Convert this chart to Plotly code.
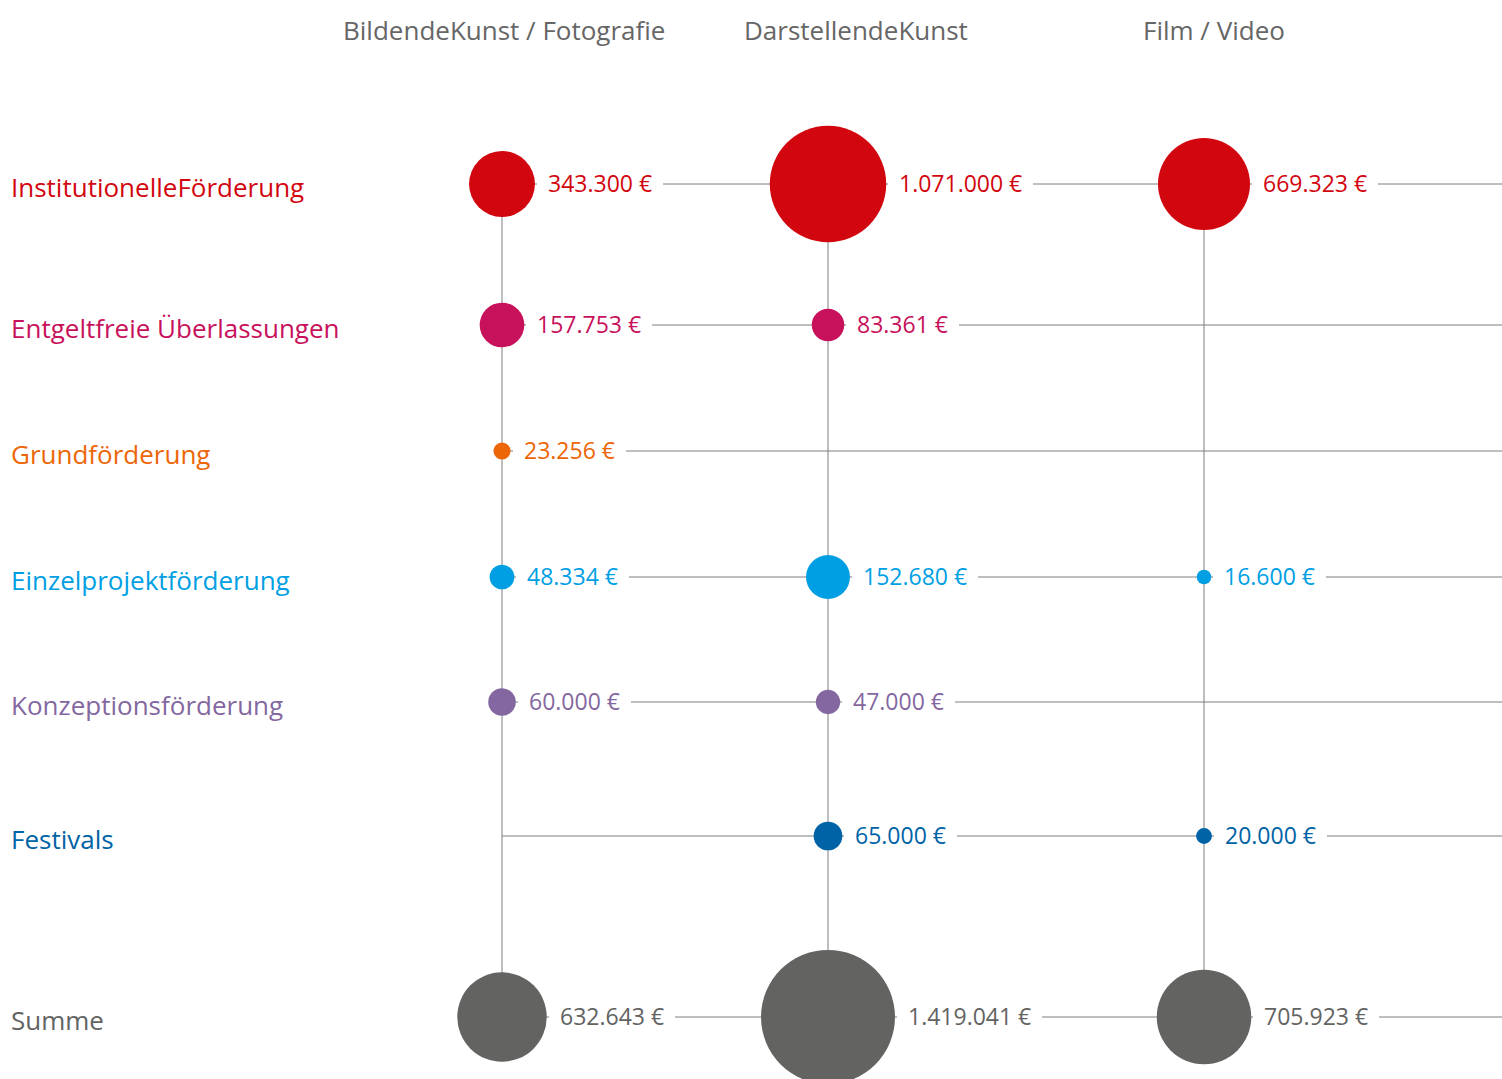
import math
import plotly.graph_objects as go

# ---------------- data ----------------
columns = ["BildendeKunst / Fotografie", "DarstellendeKunst", "Film / Video"]
rows = [
    "InstitutionelleFörderung",
    "Entgeltfreie Überlassungen",
    "Grundförderung",
    "Einzelprojektförderung",
    "Konzeptionsförderung",
    "Festivals",
    "Summe",
]
bildende_kunst = [343300, 157753, 23256, 48334, 60000, None, 632643]
darstellende_kunst = [1071000, 83361, None, 152680, 47000, 65000, 1419041]
film_video = [669323, None, None, 16600, None, 20000, 705923]

# ---------------- layout / style ----------------
W, H = 1502, 1079
col_x = [502, 828, 1204]
row_y = [184, 325, 451, 577, 702, 836, 1017]
header_x = [504, 856, 1214]
header_y = 30
row_colors = ["#D2060F", "#C8115B", "#EC6608", "#009FE3", "#8467A0", "#0063A6", "#636362"]
line_color = "#7f7f7f"
FONT = "Open Sans"
MAX_D = 134  # diameter of the largest bubble in px
GAP = 13
PAD = 10

series = [bildende_kunst, darstellende_kunst, film_video]
vmax = max(v for s in series for v in s if v is not None)
sizeref = 2.0 * vmax / MAX_D ** 2


def fmt(v):
    return f"{v:,}".replace(",", ".") + " €"


fig = go.Figure()

# grid lines: vertical per column, horizontal per row
for j in range(len(columns)):
    fig.add_trace(go.Scatter(
        x=[col_x[j], col_x[j]], y=[row_y[0], row_y[-1]], mode="lines",
        line=dict(color=line_color, width=1), hoverinfo="skip", showlegend=False))
for i in range(len(rows)):
    fig.add_trace(go.Scatter(
        x=[col_x[0], W], y=[row_y[i], row_y[i]], mode="lines",
        line=dict(color=line_color, width=1), hoverinfo="skip", showlegend=False))

annotations = []
# bubbles
for i, name in enumerate(rows):
    xs, ys, vs = [], [], []
    for j, s in enumerate(series):
        v = s[i]
        if v is None:
            continue
        xs.append(col_x[j]); ys.append(row_y[i]); vs.append(v)
        r = MAX_D / 2 * math.sqrt(v / vmax)
        annotations.append(dict(
            x=col_x[j], y=row_y[i], xref="x", yref="y", text=fmt(v), showarrow=False,
            xanchor="left", yanchor="middle", xshift=r + GAP - PAD - 1, yshift=1,
            font=dict(family=FONT, size=23, color=row_colors[i]),
            bgcolor="white", borderpad=PAD, bordercolor="white", borderwidth=1))
    fig.add_trace(go.Scatter(
        x=xs, y=ys, mode="markers", name=name,
        marker=dict(size=vs, sizemode="area", sizeref=sizeref, color=row_colors[i],
                    line=dict(width=0), opacity=1),
        showlegend=False))
    annotations.append(dict(
        x=9, y=row_y[i], xref="x", yref="y", text=name, showarrow=False,
        xanchor="left", yanchor="middle", yshift=-3,
        font=dict(family=FONT, size=26, color=row_colors[i])))

for j, c in enumerate(columns):
    annotations.append(dict(
        x=header_x[j], y=header_y, xref="x", yref="y", text=c, showarrow=False,
        xanchor="center", yanchor="middle",
        font=dict(family=FONT, size=26, color="#666666")))

fig.update_layout(
    width=W, height=H,
    margin=dict(l=0, r=0, t=0, b=0),
    paper_bgcolor="white", plot_bgcolor="white",
    xaxis=dict(range=[0, W], visible=False, fixedrange=True),
    yaxis=dict(range=[H, 0], visible=False, fixedrange=True),
    annotations=annotations,
    showlegend=False,
)

fig.write_html(
    "out.html",
    config={"displayModeBar": False, "staticPlot": True},
    post_script="document.body.style.margin='0';document.body.style.overflow='hidden';",
)
